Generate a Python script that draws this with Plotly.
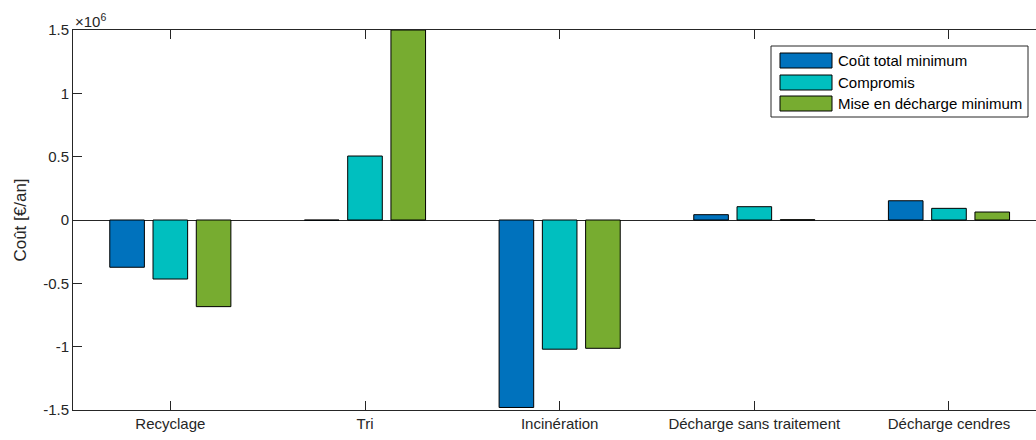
import plotly.graph_objects as go

categories = ["Recyclage", "Tri", "Incinération", "Décharge sans traitement", "Décharge cendres"]
series_names = ["Coût total minimum", "Compromis", "Mise en décharge minimum"]
cout_total_min = [-0.373e6, -0.002e6, -1.48e6, 0.042e6, 0.152e6]
compromis = [-0.466e6, 0.505e6, -1.02e6, 0.105e6, 0.092e6]
decharge_min = [-0.684e6, 1.5e6, -1.013e6, 0.002e6, 0.063e6]
y_tick_vals = [-1.5e6, -1e6, -0.5e6, 0, 0.5e6, 1e6, 1.5e6]
y_tick_text = ["-1.5", "-1", "-0.5", "0", "0.5", "1", "1.5"]
colors = ["#0072BD", "#00BFBF", "#77AC30"]

FONT = "Liberation Sans, Arial, Helvetica, sans-serif"
AX = "#262626"

fig = go.Figure()
for name, vals, col in zip(series_names, [cout_total_min, compromis, decharge_min], colors):
    fig.add_trace(go.Bar(
        x=categories, y=vals, name=name,
        marker=dict(color=col, line=dict(color="#000000", width=1)),
        showlegend=False,
    ))

fig.update_layout(
    width=1036, height=440,
    margin=dict(l=73, r=0, t=30, b=30),
    paper_bgcolor="white", plot_bgcolor="white",
    barmode="group", bargap=1/3, bargroupgap=0.2,
    font=dict(family=FONT, size=15, color=AX),
    xaxis=dict(
        range=[-0.5, 4.447], showline=True, linecolor=AX, linewidth=1,
        mirror="ticks", ticks="inside", ticklen=9, tickcolor=AX, tickwidth=1,
        showgrid=False, zeroline=False, tickfont=dict(size=15, color=AX),
    ),
    yaxis=dict(
        range=[-1.5e6, 1.5e6], showline=True, linecolor=AX, linewidth=1,
        ticks="inside", ticklen=9, tickcolor=AX, tickwidth=1,
        tickvals=y_tick_vals, ticktext=y_tick_text,
        showgrid=False, zeroline=True, zerolinecolor=AX, zerolinewidth=1,
        title=dict(text="Coût [€/an]", font=dict(size=17, color=AX), standoff=12),
        tickfont=dict(size=15, color=AX),
    ),
)

fig.add_annotation(
    xref="paper", yref="paper", x=0, y=1, xanchor="left", yanchor="bottom",
    text="×10<sup>6</sup>", showarrow=False, font=dict(size=15, color=AX),
    yshift=-2,
)

# Legend box (MATLAB style) placed in pixel-based paper coordinates
plot_w = 1036 - 73
plot_h = 440 - 30 - 30


def px_x(px):
    return (px - 73) / plot_w


def px_y(py):
    return (410 - py) / plot_h


fig.add_shape(type="rect", xref="paper", yref="paper",
              x0=px_x(771), x1=px_x(1028), y0=px_y(117), y1=px_y(46),
              line=dict(color=AX, width=1), fillcolor="white", layer="above")
swatch_rows = [(53, 68), (75, 90), (96, 111)]
for (t, b), name, col in zip(swatch_rows, series_names, colors):
    fig.add_shape(type="rect", xref="paper", yref="paper",
                  x0=px_x(780), x1=px_x(832), y0=px_y(b), y1=px_y(t),
                  line=dict(color="#000000", width=1), fillcolor=col, layer="above")
    fig.add_annotation(xref="paper", yref="paper", x=px_x(836), y=px_y((t + b) / 2),
                       xanchor="left", yanchor="middle", text=name, showarrow=False,
                       font=dict(size=15, color="#000000"))

fig.write_html("out.html")
